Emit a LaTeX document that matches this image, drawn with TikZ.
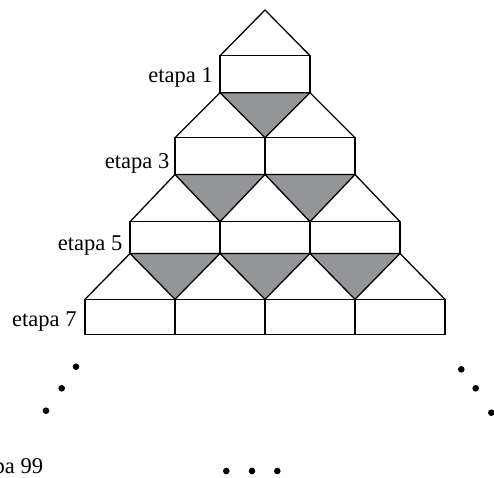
\documentclass[tikz,border=0pt]{standalone}
\usepackage{fontspec}
\setmainfont{Liberation Serif}
\definecolor{shade}{RGB}{148,149,152}
\begin{document}
\begin{tikzpicture}[x=1pt,y=-1pt,
  edge/.style={line width=1.3pt,line join=miter},
  shadetri/.style={edge,fill=shade},
  lbl/.style={anchor=base east,inner sep=0pt,font=\fontsize{22.5}{27}\selectfont},
  dot/.style={fill=black}]
\useasboundingbox (0,0) rectangle (494,477);
% apex triangle
\draw[edge] (220,55.7) -- (265,10) -- (310,55.7);
% triangles between rows
\foreach \k/\b/\t in {1/92.7/137.7, 2/174.5/221.7, 3/253.5/299.3}{
  \pgfmathsetmacro{\L}{265-45*\k}
  \pgfmathsetmacro{\Ln}{265-45*(\k+1)}
  \pgfmathsetmacro{\R}{265+45*\k}
  \pgfmathsetmacro{\Rn}{265+45*(\k+1)}
  \pgfmathtruncatemacro{\km}{\k-1}
  \foreach \i in {0,...,\km}{
    \draw[shadetri] (\L+90*\i,\b) -- (\L+90*\i+90,\b) -- (\Ln+90*\i+90,\t) -- cycle;
  }
  \draw[edge] (\L,\b) -- (\Ln,\t);
  \draw[edge] (\R,\b) -- (\Rn,\t);
}
% rectangles
\foreach \k/\t/\b in {1/55.7/92.7, 2/137.7/174.5, 3/221.7/253.5, 4/299.3/334.3}{
  \pgfmathsetmacro{\L}{265-45*\k}
  \pgfmathtruncatemacro{\km}{\k-1}
  \foreach \i in {0,...,\km}{
    \draw[edge] (\L+90*\i,\t) rectangle (\L+90*\i+90,\b);
  }
}
% labels
\node[lbl] (e1) at (213,82.7) {etapa 1};
\node[lbl] (e3) at (169.5,168.5) {etapa 3};
\node[lbl] (e5) at (122.5,250) {etapa 5};
\node[lbl] (e7) at (76.7,326.7) {etapa 7};
\node[lbl] (e99) at (43.3,473.3) {etapa 99};
% dots
\foreach \p in {(76,366.7),(61.7,388.3),(46,410.7),(461.3,369.3),(475.7,388.3),(491.3,412.7),(226.3,471),(252,471),(277.3,471)}{
  \fill[dot] \p circle (3.3);
}
\end{tikzpicture}
\end{document}
